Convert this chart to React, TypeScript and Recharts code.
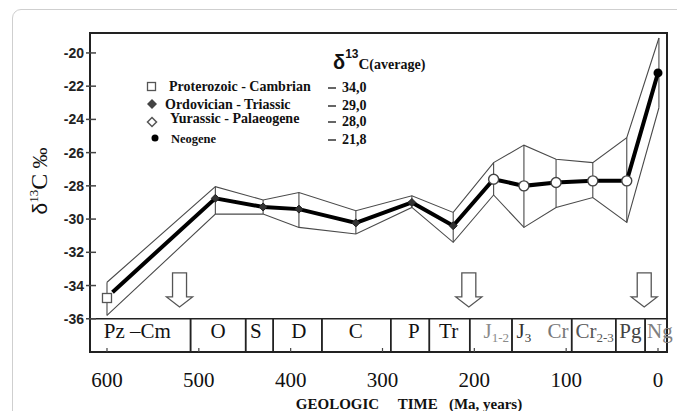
import React from "react";
import {
  ComposedChart,
  ErrorBar,
  Legend,
  Line,
  ReferenceArea,
  ReferenceDot,
  Scatter,
  XAxis,
  YAxis
} from "recharts";

const SERIF = "'Liberation Serif', 'Times New Roman', serif";
const SANS = "'Liberation Sans', Arial, sans-serif";

// ages in Ma, values in δ13C ‰
const envelopeAges = [600, 482, 430, 391, 329, 268, 223, 179, 146, 111, 71, 34, -1];
const upperBound = [-33.8, -28.05, -28.85, -28.4, -29.5, -28.6, -29.6, -26.6, -25.55, -26.4, -26.6, -25.1, -19.1];
const lowerBound = [-35.8, -29.7, -29.7, -30.5, -30.9, -29.3, -31.4, -28.55, -30.5, -29.3, -28.7, -30.2, -23.3];

const meanAges = [594, 482, 430, 391, 329, 268, 223, 179, 146, 111, 71, 34, 0];
const meanValues = [-34.4, -28.75, -29.27, -29.4, -30.23, -29.0, -30.4, -27.6, -28.0, -27.8, -27.7, -27.7, -21.2];
const meanGroups = ["none", "ord", "ord", "ord", "ord", "ord", "ord", "jur", "jur", "jur", "jur", "jur", "neo"];

const cambrianAges = [600];
const cambrianValues = [-34.75];

const xTicks = [600, 500, 400, 300, 200, 100, 0];
const yTicks = [-36, -34, -32, -30, -28, -26, -24, -22, -20];

const periodBounds = [509, 449, 419, 366, 291, 249, 205, 159, 94, 46, 14];
const periodNames = ["Pz –Cm", "O", "S", "D", "C", "P", "Tr", "J", "J", "Cr", "Cr", "Pg", "Ng"];
const periodSubs = ["", "", "", "", "", "", "", "1-2", "3", "", "2-3", "", ""];
const periodCenters = [567, 479, 438, 391, 329, 266, 228, 176, 146, 109, 69, 30, -2];
const periodInk = ["#111", "#111", "#111", "#111", "#111", "#111", "#111", "#8a8a8a", "#333", "#777", "#555", "#444", "#808080"];

const arrowAges = [521, 206, 15];

const legendNames = ["Proterozoic - Cambrian", "Ordovician - Triassic", "Yurassic - Palaeogene", "Neogene"];
const legendAverages = ["34,0", "29,0", "28,0", "21,8"];

const X_MIN = -9.8;
const X_MAX = 618.5;
const Y_MIN = -38;
const Y_MAX = -18.8;

const envelope = envelopeAges.map((ma, i) => ({
  ma,
  upper: upperBound[i],
  lower: lowerBound[i],
  span: [upperBound[i] - lowerBound[i], 0]
}));

const meanLine = meanAges.map((ma, i) => ({ ma, d13c: meanValues[i], group: meanGroups[i] }));
const cambrian = cambrianAges.map((ma, i) => ({ ma, d13c: cambrianValues[i] }));

const periodEdges = [X_MAX, ...periodBounds, X_MIN];

function diamond(cx: number, cy: number, r: number): string {
  return `${cx},${cy - r} ${cx + r},${cy} ${cx},${cy + r} ${cx - r},${cy}`;
}

function MeanDot(props: any) {
  const { cx, cy, payload, index } = props;
  if (cx == null || cy == null) return <g key={index} />;
  if (payload.group === "ord")
    return <polygon key={index} points={diamond(cx, cy, 4)} fill="#333" stroke="#222" strokeWidth={1} />;
  if (payload.group === "jur")
    return <circle key={index} cx={cx} cy={cy} r={5} fill="#fff" stroke="#444" strokeWidth={1.4} />;
  if (payload.group === "neo") return <circle key={index} cx={cx} cy={cy} r={4.5} fill="#000" />;
  return <g key={index} />;
}

function SquareMark(props: any) {
  const { cx, cy } = props;
  return <rect x={cx - 4.5} y={cy - 4.5} width={9} height={9} fill="#fff" stroke="#555" strokeWidth={1.3} />;
}

function DownArrow(props: any) {
  const { cx, cy } = props;
  const d = `M${cx - 7},${cy} L${cx + 7},${cy} L${cx + 7},${cy + 24} L${cx + 13},${cy + 24} L${cx},${cy + 34} L${cx - 13},${cy + 24} L${cx - 7},${cy + 24} Z`;
  return <path d={d} fill="#fff" stroke="#555" strokeWidth={1.3} />;
}

function periodLabel(i: number) {
  return (props: any) => (
    <text x={props.cx} y={props.cy} textAnchor="middle" fontFamily={SERIF} fontSize={21} fill={periodInk[i]}>
      {periodNames[i]}
      {periodSubs[i] ? (
        <tspan fontSize={13} dy={4}>
          {periodSubs[i]}
        </tspan>
      ) : null}
    </text>
  );
}

function YTick(props: any) {
  const { x, y, payload } = props;
  return (
    <g>
      <line x1={x - 4} x2={x + 6} y1={y} y2={y} stroke="#444" strokeWidth={1.5} />
      <text x={x - 6} y={y + 5} textAnchor="end" fontFamily={SANS} fontWeight="bold" fontSize={14} fill="#222">
        {payload.value}
      </text>
    </g>
  );
}

function XTick(props: any) {
  const { x, y, payload } = props;
  return (
    <text x={x} y={y + 35} textAnchor="middle" fontFamily={SERIF} fontSize={21} fill="#111">
      {payload.value}
    </text>
  );
}

function YLabel(props: any) {
  const vb = props.viewBox;
  const px = vb.x + 17;
  const py = vb.y + 148;
  return (
    <text x={px} y={py} transform={`rotate(-90 ${px} ${py})`} textAnchor="middle" fill="#111">
      <tspan fontFamily={SANS} fontSize={21}>δ</tspan>
      <tspan fontFamily={SERIF} fontSize={13} dy={-9}>13</tspan>
      <tspan fontFamily={SERIF} fontSize={24} dy={9}>C</tspan>
      <tspan fontFamily={SERIF} fontSize={21}> ‰</tspan>
    </text>
  );
}

function XTitle(props: any) {
  const vb = props.viewBox;
  return (
    <text
      x={vb.x + vb.width / 2 + 30.5}
      y={vb.y + 57}
      textAnchor="middle"
      fontFamily={SERIF}
      fontWeight="bold"
      fontSize={15}
      fill="#111"
      style={{ whiteSpace: "pre" }}
    >
      {"GEOLOGIC     TIME   (Ma, years)"}
    </text>
  );
}

function LegendBox() {
  const rows = [91, 108.5, 122.5, 143];
  const valueRows = [92, 110, 126, 144];
  const textX = [169, 165, 170, 171];
  const serifBold = { fontFamily: SERIF, fontWeight: 700 };
  return (
    <svg width={677} height={160} style={{ display: "block" }}>
      <rect x={147.5} y={82.5} width={8} height={8} fill="#fff" stroke="#555" strokeWidth={1.3} />
      <polygon points={diamond(152, 104, 5)} fill="#444" />
      <polygon points={diamond(152, 122, 4.5)} fill="#fff" stroke="#555" strokeWidth={1.5} />
      <circle cx={155} cy={138} r={3.5} fill="#000" />
      {legendNames.map((name, i) => (
        <text
          key={name}
          x={textX[i]}
          y={rows[i]}
          style={{ ...serifBold, fontSize: i === 3 ? 12.5 : 14 }}
          fill="#111"
        >
          {name}
        </text>
      ))}
      {legendAverages.map((v, i) => (
        <g key={v}>
          <line x1={328} x2={336} y1={valueRows[i] - 4} y2={valueRows[i] - 4} stroke="#333" strokeWidth={1.5} />
          <text x={342} y={valueRows[i]} style={{ ...serifBold, fontSize: 14 }} fill="#111">
            {v}
          </text>
        </g>
      ))}
      <text x={333} y={69} fill="#111" style={{ fontWeight: 700 }}>
        <tspan style={{ fontFamily: SANS, fontSize: 20 }}>δ</tspan>
        <tspan style={{ fontFamily: SANS, fontSize: 12 }} dy={-11}>13</tspan>
        <tspan style={{ fontFamily: SERIF, fontSize: 15 }} dy={11}>C</tspan>
        <tspan style={{ fontFamily: SERIF, fontSize: 14 }}>(average)</tspan>
      </text>
    </svg>
  );
}

export default function App() {
  return (
    <div
      style={{
        position: "fixed",
        left: 0,
        top: 0,
        width: 677,
        height: 411,
        overflow: "hidden",
        background: "#fff"
      }}
    >
      <div
        style={{
          position: "absolute",
          left: 12,
          top: 9,
          width: 720,
          height: 460,
          border: "1.5px solid #cfcfcf",
          borderRadius: 9
        }}
      />
      <div style={{ position: "absolute", left: 0, top: 0 }}>
        <ComposedChart width={677} height={411} margin={{ top: 33, right: 10, left: 30, bottom: 0 }}>
          <XAxis
            dataKey="ma"
            type="number"
            domain={[X_MIN, X_MAX]}
            allowDataOverflow
            reversed
            ticks={xTicks}
            height={59}
            axisLine={false}
            tickLine={{ stroke: "#444", strokeWidth: 1.2 }}
            tickSize={-4}
            tickMargin={4}
            tick={<XTick />}
            label={<XTitle />}
          />
          <YAxis
            type="number"
            domain={[Y_MIN, Y_MAX]}
            allowDataOverflow
            ticks={yTicks}
            width={60}
            axisLine={false}
            tickLine={false}
            tickSize={0}
            tickMargin={0}
            tick={<YTick />}
            label={<YLabel />}
          />
          <ReferenceArea x1={X_MIN} x2={X_MAX} y1={Y_MIN} y2={Y_MAX} fill="none" stroke="#222" strokeWidth={2} />
          {periodNames.map((name, i) => (
            <ReferenceArea
              key={`cell-${i}`}
              x1={periodEdges[i]}
              x2={periodEdges[i + 1]}
              y1={Y_MIN}
              y2={-36}
              fill="none"
              stroke="#222"
              strokeWidth={1.5}
            />
          ))}
          <Line
            data={envelope}
            dataKey="upper"
            type="linear"
            stroke="#4a4a4a"
            strokeWidth={1.1}
            dot={false}
            activeDot={false}
            isAnimationActive={false}
          >
            <ErrorBar dataKey="span" direction="y" width={0} stroke="#4a4a4a" strokeWidth={1.1} isAnimationActive={false} />
          </Line>
          <Line
            data={envelope}
            dataKey="lower"
            type="linear"
            stroke="#4a4a4a"
            strokeWidth={1.1}
            dot={false}
            activeDot={false}
            isAnimationActive={false}
          />
          <Line
            data={meanLine}
            dataKey="d13c"
            type="linear"
            stroke="#000"
            strokeWidth={4}
            dot={MeanDot}
            activeDot={false}
            isAnimationActive={false}
          />
          <Scatter data={cambrian} dataKey="d13c" shape={SquareMark} isAnimationActive={false} />
          {arrowAges.map((ma) => (
            <ReferenceDot key={`arrow-${ma}`} x={ma} y={-33.24} r={1} shape={DownArrow} />
          ))}
          {periodNames.map((name, i) => (
            <ReferenceDot
              key={`label-${i}`}
              x={periodCenters[i]}
              y={-37.14}
              r={1}
              shape={periodLabel(i)}
            />
          ))}
          <Legend
            layout="vertical"
            align="center"
            verticalAlign="middle"
            wrapperStyle={{ position: "absolute", left: 0, top: 0, width: 677, height: 160 }}
            content={<LegendBox />}
          />
        </ComposedChart>
      </div>
    </div>
  );
}
